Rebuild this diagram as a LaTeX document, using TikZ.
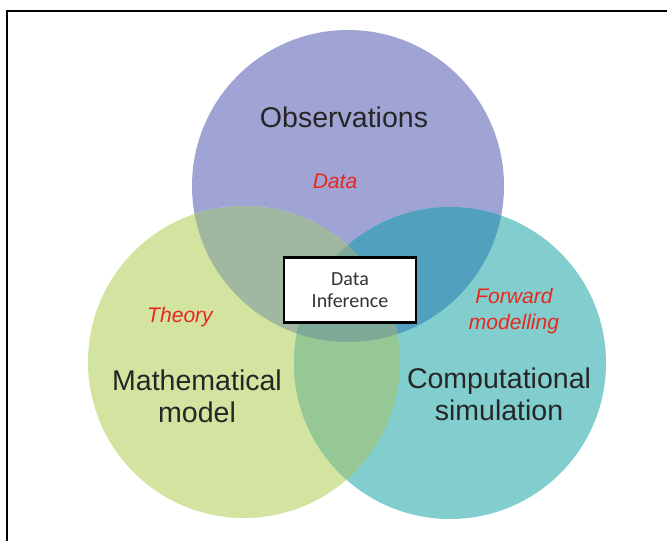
\documentclass[tikz,border=0pt]{standalone}
\usepackage{fontspec}
\setmainfont{Liberation Sans}
\newfontfamily\boxfont{Carlito}
\usepackage{xcolor}
\usepackage{tikz}

\definecolor{obsblue}{RGB}{160,164,213}
\definecolor{mathgreen}{RGB}{211,227,160}
\definecolor{compteal}{RGB}{130,206,206}
\definecolor{obsmath}{RGB}{160,183,160}
\definecolor{obscomp}{RGB}{80,160,190}
\definecolor{mathcomp}{RGB}{150,200,150}
\definecolor{allthree}{RGB}{125,170,150}
\definecolor{labelred}{RGB}{232,40,30}

\begin{document}
\begin{tikzpicture}[x=0.75pt,y=-0.75pt,
	bigtext/.style={font=\fontsize{21.4}{24}\selectfont, text=black!85, align=center},
	redtext/.style={font=\fontsize{15.8}{20}\selectfont\itshape, text=labelred, align=center}]
	\useasboundingbox (0,0) rectangle (667,541);
	\def\rad{117pt}
	
	% Frame
	\draw[line width=2.2pt] (7,541) -- (7,11) -- (667,11);
	
	% Centres of the three sets
	\coordinate (obs) at (348,186);
	\coordinate (math) at (244,362);
	\coordinate (comp) at (450,363);
	
	% Circles
	\fill[obsblue] (obs) circle (\rad);
	\fill[mathgreen] (math) circle (\rad);
	\fill[compteal] (comp) circle (\rad);
	
	% Pairwise overlaps
	\begin{scope}
		\clip (obs) circle (\rad);
		\fill[obsmath] (math) circle (\rad);
		\fill[obscomp] (comp) circle (\rad);
	\end{scope}
	\begin{scope}
		\clip (math) circle (\rad);
		\fill[mathcomp] (comp) circle (\rad);
	\end{scope}
	\begin{scope}
		\clip (obs) circle (\rad);
		\clip (math) circle (\rad);
		\fill[allthree] (comp) circle (\rad);
	\end{scope}
	
	% Labels
	\node[bigtext] (obslabel) at (344,117) {Observations};
	\node[redtext] (data) at (335,181) {Data};
	\node[redtext] (theory) at (180,317) {Theory};
	\node[bigtext] (mathlabel) at (197,396) {Mathematical\\model};
	\node[redtext] (forward) at (514,311) {Forward\\modelling};
	\node[bigtext] (complabel) at (499,394) {Computational\\simulation};
	
	% Box in the middle
	\node[draw, line width=2.2pt, fill=white, minimum width=99pt, minimum height=49pt,
		font=\boxfont\fontsize{15}{17}\selectfont, text=black!80, align=center]
		(inference) at (350,290) {Data\\Inference};
\end{tikzpicture}
\end{document}
